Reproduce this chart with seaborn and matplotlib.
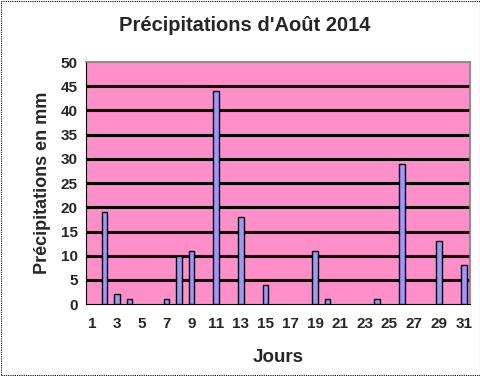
import numpy as np
import pandas as pd
import matplotlib
matplotlib.use("Agg")
import matplotlib.pyplot as plt
from matplotlib.patches import Rectangle
import seaborn as sns

# rainy days of August 2014 and amounts (mm)
days = [2, 3, 4, 7, 8, 9, 11, 13, 15, 19, 20, 24, 26, 29, 31]
rain_mm = [19, 2, 1, 1, 10, 11, 44, 18, 4, 11, 1, 1, 29, 13, 8]
tick_days = list(range(1, 32, 2))

df = pd.DataFrame({"jour": days, "mm": rain_mm})

sns.set_style("white")
plt.rcParams["font.family"] = ["Liberation Sans", "DejaVu Sans"]
plt.rcParams["hatch.color"] = "#e8559c"
plt.rcParams["hatch.linewidth"] = 0.8

fig = plt.figure(figsize=(4.81, 3.76), dpi=100)
ax = fig.add_axes([0.179, 0.191, 0.798, 0.644])
ax.set_facecolor("#FF8FC8")

# dotted pattern on the plot area
ax.add_patch(Rectangle((0, 0), 1, 1, transform=ax.transAxes, facecolor="none",
                       edgecolor="none", hatch=".", zorder=0))

sns.barplot(data=df, x="jour", y="mm", native_scale=True, width=0.45,
            color="#9999FF", edgecolor="black", linewidth=1.0,
            saturation=1, ax=ax, zorder=3)

ax.set_xlim(0.5, 31.5)
ax.set_ylim(0, 50)
ax.set_yticks(range(0, 51, 5))
ax.set_xticks(tick_days)
ax.set_xticks(np.arange(0.5, 32, 1), minor=True)
ax.tick_params(axis="x", which="major", length=0, pad=9)
ax.tick_params(axis="x", which="minor", length=4, width=0.8, color="black", direction="out")
ax.tick_params(axis="y", length=4, width=0.8, color="black", direction="out", pad=2)
for lab in ax.get_xticklabels() + ax.get_yticklabels():
    lab.set_fontweight("bold")
    lab.set_fontsize(11)

for y in range(5, 50, 5):
    ax.axhline(y, color="black", linewidth=2.2, zorder=2)

for side in ["top", "right"]:
    ax.spines[side].set_visible(True)
    ax.spines[side].set_color("#808080")
    ax.spines[side].set_linewidth(1.2)
for side in ["left", "bottom"]:
    ax.spines[side].set_color("black")
    ax.spines[side].set_linewidth(0.8)

ax.set_xlabel("Jours", fontsize=13.5, fontweight="bold", labelpad=13)
ax.set_ylabel("Précipitations en mm", fontsize=13, fontweight="bold", labelpad=7)
fig.text(0.508, 0.933, "Précipitations d'Août 2014", ha="center", va="center",
         fontsize=14.5, fontweight="bold")

# dashed frame around the chart
fig.patches.append(Rectangle((0.002, 0.003), 0.995, 0.994, transform=fig.transFigure,
                             fill=False, edgecolor="black", linewidth=0.8,
                             linestyle=(0, (1, 1))))

fig.savefig("out.png", dpi=100)
